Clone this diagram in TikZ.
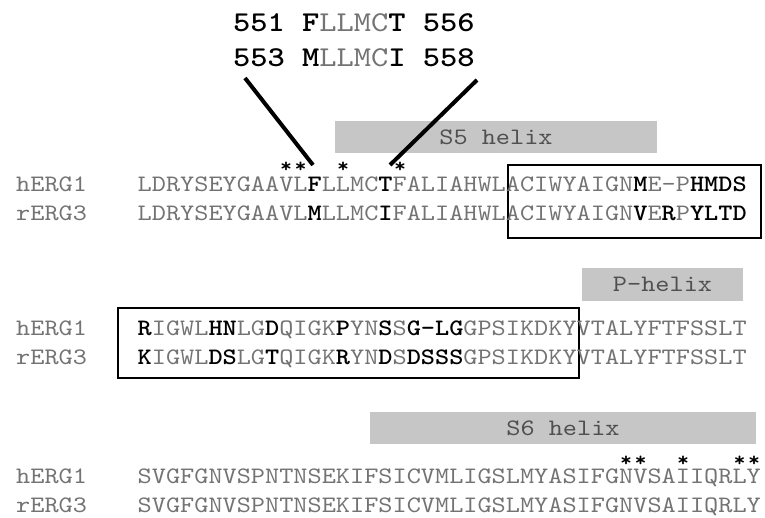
\documentclass[tikz,border=0pt]{standalone}
\usepackage{fontspec}
\newfontfamily\seqfont{lmmono10-regular.otf}[BoldFont=lmmonolt10-bold.otf, FakeStretch=1.143]
\definecolor{seqgray}{HTML}{737373}
\definecolor{helixfill}{HTML}{C6C6C6}
\definecolor{helixtext}{HTML}{505050}
\newcommand\B[1]{{\bfseries\color{black}#1}}
\tikzset{
  seq/.style={anchor=base west, inner sep=0pt, font=\seqfont\fontsize{23.6}{24}\selectfont, text=seqgray},
  toplabel/.style={anchor=base west, inner sep=0pt, font=\seqfont\fontsize{28.75}{30}\selectfont, text=seqgray},
  helix/.style={fill=helixfill, draw=none, inner sep=0pt, font=\seqfont\fontsize{23.6}{24}\selectfont, text=helixtext},
  regionbox/.style={draw=black, line width=2pt},
  starmark/.style={anchor=north, inner sep=0pt, font=\seqfont\bfseries\fontsize{20}{20}\selectfont, text=black},
  pointer/.style={line width=4pt, black}
}
\begin{document}
\begin{tikzpicture}[x=1pt,y=1pt]
\useasboundingbox (0,0) rectangle (765,517);
% top labels
\node[toplabel] (t1) at (233,485) {\B{551 F}LLMC\B{T 556}};
\node[toplabel] (t2) at (233,450) {\B{553 M}LLMC\B{I 558}};
% helix bars
\node[helix, minimum width=322pt, minimum height=32pt] (s5) at (496,380) {S5 helix};
\node[helix, minimum width=161pt, minimum height=33pt] (ph) at (662.5,232.5) {P-helix};
\node[helix, minimum width=386pt, minimum height=32pt] (s6) at (563,89) {S6 helix};
% boxes
\draw[regionbox] (508,279) rectangle (761,352);
\draw[regionbox] (118,139) rectangle (579,209);
% block 1
\node[seq] (lh1) at (16,325) {hERG1};
\node[seq] (lr1) at (16,296) {rERG3};
\node[seq] (h1) at (137.5,325) {LDRYSEYGAAVL\B{F}LLMC\B{T}FALIAHWLACIWYAIGN\B{M}E-P\B{HMDS}};
\node[seq] (r1) at (137.5,296) {LDRYSEYGAAVL\B{M}LLMC\B{I}FALIAHWLACIWYAIGN\B{V}E\B{R}P\B{YLTD}};
% block 2
\node[seq] (lh2) at (16,182) {hERG1};
\node[seq] (lr2) at (16,153) {rERG3};
\node[seq] (h2) at (137.5,182) {\B{R}IGWL\B{HN}LG\B{D}QIGK\B{P}YN\B{S}S\B{G-LG}GPSIKDKYVTALYFTFSSLT};
\node[seq] (r2) at (137.5,153) {\B{K}IGWL\B{DS}LG\B{T}QIGK\B{R}YN\B{D}S\B{DSSS}GPSIKDKYVTALYFTFSSLT};
% block 3
\node[seq] (lh3) at (16,34) {hERG1};
\node[seq] (lr3) at (16,5) {rERG3};
\node[seq] (h3) at (137.5,34) {SVGFGNVSPNTNSEKIFSICVMLIGSLMYASIFGNVSAIIQRLY};
\node[seq] (r3) at (137.5,5) {SVGFGNVSPNTNSEKIFSICVMLIGSLMYASIFGNVSAIIQRLY};
% stars block 1
\node[starmark] (st1) at (286,355) {*};
\node[starmark] (st2) at (300.5,355) {*};
\node[starmark] (st3) at (343,355) {*};
\node[starmark] (st4) at (400,355) {*};
% stars block 3
\node[starmark] (st5) at (626,61) {*};
\node[starmark] (st6) at (640.5,61) {*};
\node[starmark] (st7) at (683,61) {*};
\node[starmark] (st8) at (739.5,61) {*};
\node[starmark] (st9) at (754,61) {*};
% pointers
\coordinate (pl0) at (245,439);
\coordinate (pl1) at (313,352);
\coordinate (pr0) at (477,437);
\coordinate (pr1) at (390,352);
\draw[pointer] (pl0) -- (pl1);
\draw[pointer] (pr0) -- (pr1);
\end{tikzpicture}
\end{document}
